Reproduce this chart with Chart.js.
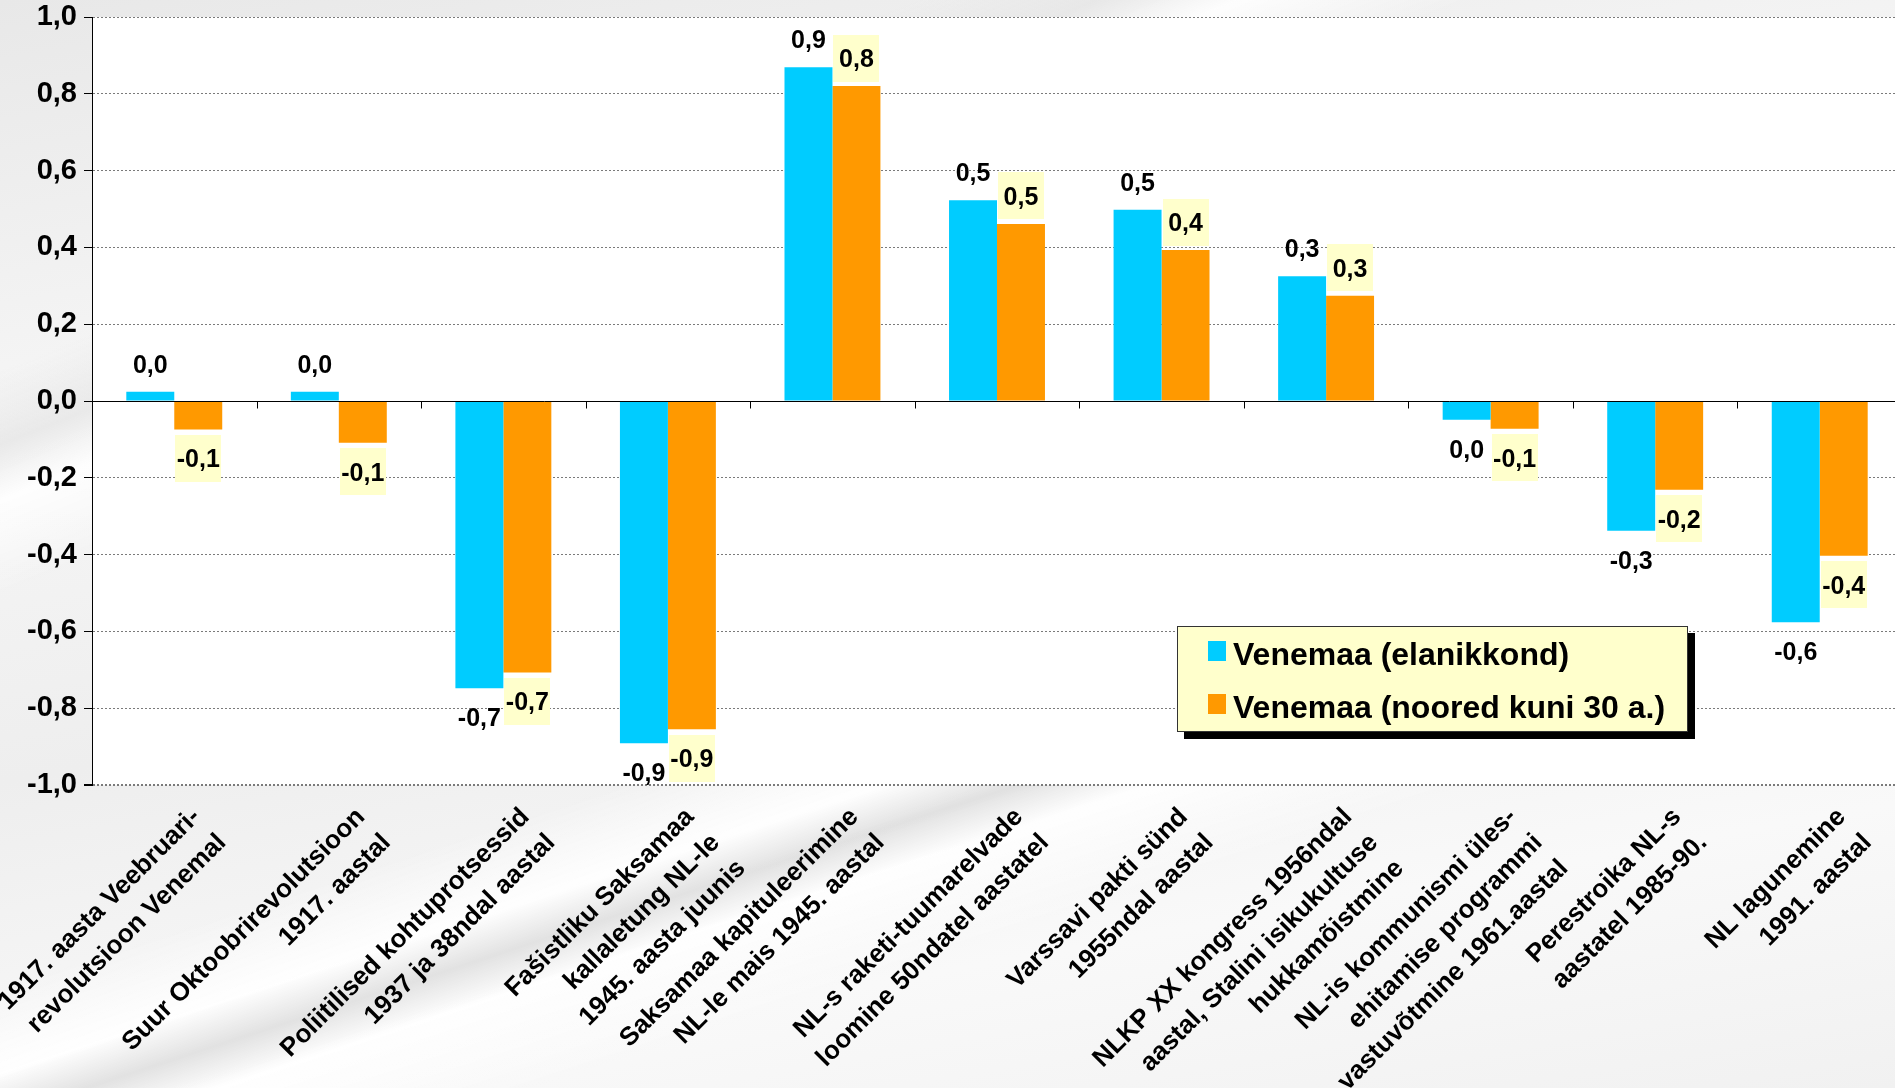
<!DOCTYPE html>
<html>
<head>
<meta charset="utf-8">
<script src="https://cdn.jsdelivr.net/npm/chart.js@4.4.0/dist/chart.umd.min.js"></script>
<style>
html, body { margin: 0; padding: 0; width: 1895px; height: 1088px; overflow: hidden; }
body {
  font-family: "Liberation Sans", Arial, sans-serif;
  background:
    linear-gradient(162deg, rgba(255,255,255,0) 58%, rgba(255,255,255,0.95) 63%, rgba(222,222,222,0.85) 65.5%, rgba(255,255,255,0.95) 68%, rgba(255,255,255,0) 74%),
    linear-gradient(158deg, rgba(255,255,255,0) 20%, rgba(230,230,230,0.8) 24%, rgba(255,255,255,0.9) 27%, rgba(255,255,255,0) 32%),
    linear-gradient(170deg, #e8e8e8 0%, #f6f6f6 30%, #eeeeee 55%, #f9f9f9 80%, #f1f1f1 100%);
}
#wrap { position: absolute; left: 0; top: 0; width: 1905px; height: 1088px; }
#c { position: absolute; left: 0; top: 0; }
#legend {
  position: absolute; left: 1177px; top: 626px; width: 509px; height: 104px;
  background: #FFFFCC; border: 1px solid #333; box-shadow: 7px 7px 0 #000;
  font-family: "Liberation Sans", Arial, sans-serif; font-weight: bold; font-size: 32px; color: #000;
}
#legend .row { position: absolute; left: 0; height: 32px; line-height: 32px; white-space: nowrap; }
#legend .mk { position: absolute; left: 30px; top: 3px; width: 18px; height: 20px; }
#legend .tx { position: absolute; left: 55px; top: 0; }
</style>
</head>
<body>
<div id="wrap">
  <canvas id="c" width="1905" height="1088" style="width:1905px;height:1088px"></canvas>
  <div id="legend"></div>
</div>
<script>
const categories = [
  ["1917. aasta Veebruari-", "revolutsioon Venemal"],
  ["Suur Oktoobrirevolutsioon", "1917. aastal"],
  ["Poliitilised kohtuprotsessid", "1937 ja 38ndal aastal"],
  ["Fašistliku Saksamaa", "kallaletung NL-le", "1945. aasta juunis"],
  ["Saksamaa kapituleerimine", "NL-le mais 1945. aastal"],
  ["NL-s raketi-tuumarelvade", "loomine 50ndatel aastatel"],
  ["Varssavi pakti sünd", "1955ndal aastal"],
  ["NLKP XX kongress 1956ndal", "aastal, Stalini isikukultuse", "hukkamõistmine"],
  ["NL-is kommunismi üles-", "ehitamise programmi", "vastuvõtmine 1961.aastal"],
  ["Perestroika NL-s", "aastatel 1985-90."],
  ["NL lagunemine", "1991. aastal"]
];
const seriesNames = ["Venemaa (elanikkond)", "Venemaa (noored kuni 30 a.)"];
const seriesColors = ["#00CCFF", "#FF9900"];
const populationValues = [0.024, 0.024, -0.748, -0.891, 0.869, 0.523, 0.498, 0.325, -0.049, -0.338, -0.576];
const youthValues = [-0.074, -0.109, -0.707, -0.855, 0.820, 0.461, 0.393, 0.274, -0.072, -0.231, -0.403];
const yTicks = [-1.0, -0.8, -0.6, -0.4, -0.2, 0.0, 0.2, 0.4, 0.6, 0.8, 1.0];

const FONT = '"Liberation Sans", Arial, sans-serif';

function fmt(v) {
  let s = (Math.round(v * 10) / 10).toFixed(1);
  if (s === "-0.0") s = "0.0";
  return s.replace(".", ",");
}

const areaBg = {
  id: "areaBg",
  beforeDraw(chart) {
    const a = chart.chartArea, ctx = chart.ctx;
    ctx.save();
    ctx.fillStyle = "#ffffff";
    ctx.fillRect(a.left, a.top, a.right - a.left, a.bottom - a.top);
    ctx.restore();
  }
};

const zeroAndLabels = {
  id: "zeroAndLabels",
  afterDatasetsDraw(chart) {
    const ctx = chart.ctx, a = chart.chartArea;
    const y = chart.scales.y, x = chart.scales.x;
    const y0 = Math.round(y.getPixelForValue(0)) + 0.5;
    ctx.save();
    ctx.strokeStyle = "#000";
    ctx.lineWidth = 1;
    ctx.beginPath();
    ctx.moveTo(a.left, y0);
    ctx.lineTo(a.right, y0);
    const n = categories.length;
    const step = (a.right - a.left) / n;
    for (let i = 1; i < n; i++) {
      const tx = Math.round(x.getPixelForValue(i) - step / 2) + 0.5;
      ctx.moveTo(tx, y0);
      ctx.lineTo(tx, y0 + 7);
    }
    ctx.stroke();

    ctx.font = "bold 25px " + FONT;
    ctx.textAlign = "center";
    ctx.textBaseline = "alphabetic";
    chart.data.datasets.forEach((ds, di) => {
      const meta = chart.getDatasetMeta(di);
      meta.data.forEach((bar, i) => {
        const v = ds.data[i];
        const cy = v >= 0 ? bar.y - 28 : bar.y + 29;
        if (di === 1) {
          ctx.fillStyle = "#FFFFCC";
          ctx.fillRect(Math.round(bar.x - 23), Math.round(cy - 23.5), 46, 47);
        }
        ctx.fillStyle = "#000";
        ctx.fillText(fmt(v), bar.x, cy + 9);
      });
    });
    ctx.restore();
  }
};

const chart = new Chart(document.getElementById("c"), {
  type: "bar",
  data: {
    labels: categories,
    datasets: [
      { label: seriesNames[0], data: populationValues, backgroundColor: seriesColors[0], borderWidth: 0 },
      { label: seriesNames[1], data: youthValues, backgroundColor: seriesColors[1], borderWidth: 0 }
    ]
  },
  options: {
    responsive: false,
    animation: false,
    devicePixelRatio: 1,
    layout: { autoPadding: false, padding: { top: 17, left: 0, right: 3, bottom: 0 } },
    datasets: { bar: { categoryPercentage: 0.583, barPercentage: 1.0 } },
    plugins: { legend: { display: false }, tooltip: { enabled: false } },
    scales: {
      x: {
        type: "category",
        offset: true,
        grid: { display: false },
        border: { display: false },
        ticks: {
          autoSkip: false, minRotation: 45, maxRotation: 45,
          labelOffset: 22, padding: 7, color: "#000",
          font: { family: FONT, size: 26, weight: "bold", lineHeight: 1.4 }
        },
        afterFit(s) { s.height = 303; s.paddingLeft = 0; s.paddingRight = 0; }
      },
      y: {
        min: -1, max: 1,
        afterBuildTicks(s) { s.ticks = yTicks.map(v => ({ value: v })); },
        ticks: {
          padding: 7, color: "#000",
          font: { family: FONT, size: 29, weight: "bold" },
          callback: v => fmt(v)
        },
        grid: {
          color: c => (c.tick && Math.abs(c.tick.value) < 1e-9) ? "rgba(0,0,0,0)" : "#7a7a7a",
          lineWidth: c => (c.tick && Math.abs(c.tick.value + 1) < 1e-9) ? 2 : 1,
          tickColor: "#000", tickLength: 8, drawTicks: true
        },
        border: { display: true, color: "#000", width: 1, dash: [2, 2] },
        afterFit(s) { s.width = 92; s.paddingTop = 0; s.paddingBottom = 0; }
      }
    }
  },
  plugins: [areaBg, zeroAndLabels]
});

// HTML legend built from the chart's datasets
const leg = document.getElementById("legend");
chart.data.datasets.forEach((ds, i) => {
  const row = document.createElement("div");
  row.className = "row";
  row.style.top = (11 + i * 53) + "px";
  row.innerHTML = '<span class="mk" style="background:' + ds.backgroundColor + '"></span><span class="tx"></span>';
  row.querySelector(".tx").textContent = ds.label;
  leg.appendChild(row);
});
</script>
</body>
</html>
